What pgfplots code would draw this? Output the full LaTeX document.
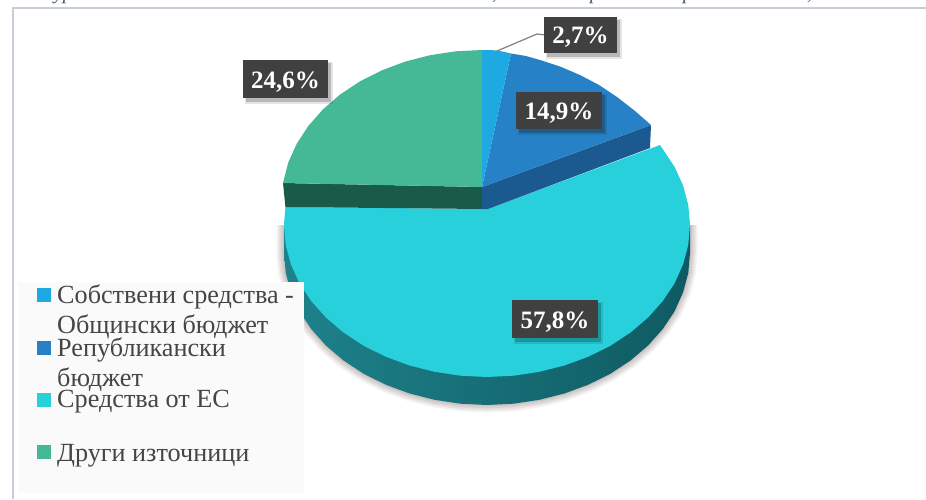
\documentclass[border=0pt]{standalone}
\usepackage{fontspec}
\setmainfont{Liberation Serif}
\usepackage{pgfplots}
\usepackage{pgfplotstable}
\pgfplotsset{compat=1.18}
\definecolor{cSelf}{HTML}{1FA9E2}
\definecolor{cRep}{HTML}{2681C6}
\definecolor{cEU}{HTML}{28D0DC}
\definecolor{cOth}{HTML}{45B996}
\definecolor{dRep}{HTML}{1B5A91}
\definecolor{dOth}{HTML}{1A5A48}
\definecolor{dEUa}{HTML}{1E828B}
\definecolor{dEUb}{HTML}{0F5A62}
\definecolor{box}{HTML}{404040}
\definecolor{legtxt}{HTML}{454545}
\definecolor{frame}{HTML}{C6CFD7}
\definecolor{toptxt}{HTML}{44546A}
\definecolor{shad}{HTML}{A89A9A}
\pgfplotstableread{
x y
690 225
690 253
688.3 272.8
683.1 292.3
674.6 311.2
662.8 329
648.1 345.5
630.5 360.5
610.6 373.6
588.5 384.6
564.7 393.4
539.5 399.8
513.5 403.7
487 405
460.5 403.7
434.5 399.8
409.3 393.4
385.5 384.6
363.4 373.6
343.5 360.5
325.9 345.5
311.2 329
299.4 311.2
290.9 292.3
285.7 272.8
284 253
284 225
}\bandlow
\newcommand\lab[5]{%
  \addplot[fill=black,fill opacity=.10,draw=none] coordinates {(#1+2,#2+2)(#3+5,#2+2)(#3+5,#4+6)(#1+2,#4+6)} -- cycle;
  \addplot[fill=black,fill opacity=.20,draw=none] coordinates {(#1+3,#2+3)(#3+3,#2+3)(#3+3,#4+4)(#1+3,#4+4)} -- cycle;
  \addplot[fill=box,draw=none] coordinates {(#1,#2)(#3,#2)(#3,#4)(#1,#4)} -- cycle;
  \node[text=white,font=\fontsize{25}{25}\selectfont\bfseries,inner sep=0pt,anchor=base] at (axis cs:{(#1+#3)/2},{#4-10}) {#5};
}
\newcommand\leg[3]{\node[text=legtxt,font=\fontsize{26.2}{26.2}\selectfont,inner sep=0pt,anchor=base west] at (axis cs:#1,#2) {#3};}
\newcommand\sq[2]{\addplot[fill=#2,draw=none] coordinates {(37,#1)(51,#1)(51,#1+14)(37,#1+14)} -- cycle;}
\begin{document}
\begin{tikzpicture}[x=1pt,y=1pt]
\useasboundingbox (0,0) rectangle (926pt,499pt);
\begin{axis}[
  at={(0,0)},anchor=south west,
  scale only axis,width=926pt,height=499pt,
  xmin=0,xmax=926,ymin=0,ymax=499,y dir=reverse,
  hide axis,clip=false]
% frame
\addplot[draw=frame,line width=2pt] coordinates {(13,499)(13,8)(926,8)};
% top fragments of the cropped caption
\node[text=toptxt,font=\fontsize{20}{20}\selectfont\itshape,inner sep=0pt,anchor=base west] at (axis cs:54,-1) {ур};
\node[text=toptxt,font=\fontsize{20}{20}\selectfont\itshape,inner sep=0pt,anchor=base west] at (axis cs:492,-1) {,};
\node[text=toptxt,font=\fontsize{20}{20}\selectfont\itshape,inner sep=0pt,anchor=base west] at (axis cs:590,-1) {р};
\node[text=toptxt,font=\fontsize{20}{20}\selectfont\itshape,inner sep=0pt,anchor=base west] at (axis cs:683,-1) {р};
\node[text=toptxt,font=\fontsize{20}{20}\selectfont\itshape,inner sep=0pt,anchor=base west] at (axis cs:807,-1) {,};
% soft shadow
\addplot[draw=shad,draw opacity=.14,line width=15pt] table {\bandlow};
\addplot[draw=shad,draw opacity=.18,line width=11pt] table {\bandlow};
\addplot[draw=shad,draw opacity=.22,line width=7pt] table {\bandlow};
\addplot[draw=shad,draw opacity=.25,line width=3pt] table {\bandlow};
% side of EU slice
\addplot[left color=dEUa,middle color=dEUb!92!dEUa,right color=dEUb,draw=none] table {\bandlow} -- cycle;
% top of EU slice
\addplot[fill=cEU,draw=none] coordinates {
(488,209)(660,145)(674.6,166.8)(683.1,185.6)(688.3,205.2)(690,225)(688.3,244.8)(683.1,264.3)(674.6,283.2)(662.8,301)(648.1,317.5)(630.5,332.5)(610.6,345.6)(588.5,356.6)(564.7,365.4)(539.5,371.8)(513.5,375.7)(487,377)(460.5,375.7)(434.5,371.8)(409.3,365.4)(385.5,356.6)(363.4,345.6)(343.5,332.5)(325.9,317.5)(311.2,301)(299.4,283.2)(290.9,264.3)(285.7,244.8)(284,225)(285.4,207)(482,209)
} -- cycle;
% sides of the other slices
\addplot[fill=dOth,draw=none] coordinates {(283,183)(482,187)(482,209)(285.4,207)} -- cycle;
\addplot[fill=dRep,draw=none] coordinates {(482,187)(651,125)(650,148)(488,209)(482,209)} -- cycle;
% top of other slices
\addplot[fill=cOth,draw=none] coordinates {
(482,187)(283,183)(288.2,162.6)(296.7,143.8)(308.3,126)(322.8,109.5)(340.1,94.5)(359.9,81.4)(381.7,70.4)(405.2,61.6)(430,55.2)(455.8,51.3)(482,50)
} -- cycle;
\addplot[fill=cRep,draw=none] coordinates {
(482,187)(511,53.5)(526,56)(540,60)(560,66.5)(580,75)(599,85)(617,97)(635,111)(651,125)
} -- cycle;
\addplot[fill=cSelf,draw=none] coordinates {(482,187)(482,50)(490,50)(497,50.5)(505,52)(511,53.5)} -- cycle;
% leader
\addplot[draw=gray,line width=1.2pt] coordinates {(497,51)(537,34)(545,35)};
% data labels
\lab{544}{17}{617}{53}{2,7\%}
\lab{243}{60}{328}{98}{24,6\%}
\lab{516}{92}{602}{129}{14,9\%}
\lab{512}{300}{598}{338}{57,8\%}
% legend
\addplot[fill=black!2,draw=none] coordinates {(18,282)(304,282)(304,493)(18,493)} -- cycle;
\sq{288}{cSelf}
\sq{341}{cRep}
\sq{393}{cEU}
\sq{445}{cOth}
\leg{57}{303}{Собствени средства -}
\leg{57}{333}{Общински бюджет}
\leg{57}{356}{Републикански}
\leg{57}{386}{бюджет}
\leg{57}{407}{Средства от ЕС}
\leg{57}{461}{Други източници}
\end{axis}
\end{tikzpicture}
\end{document}
